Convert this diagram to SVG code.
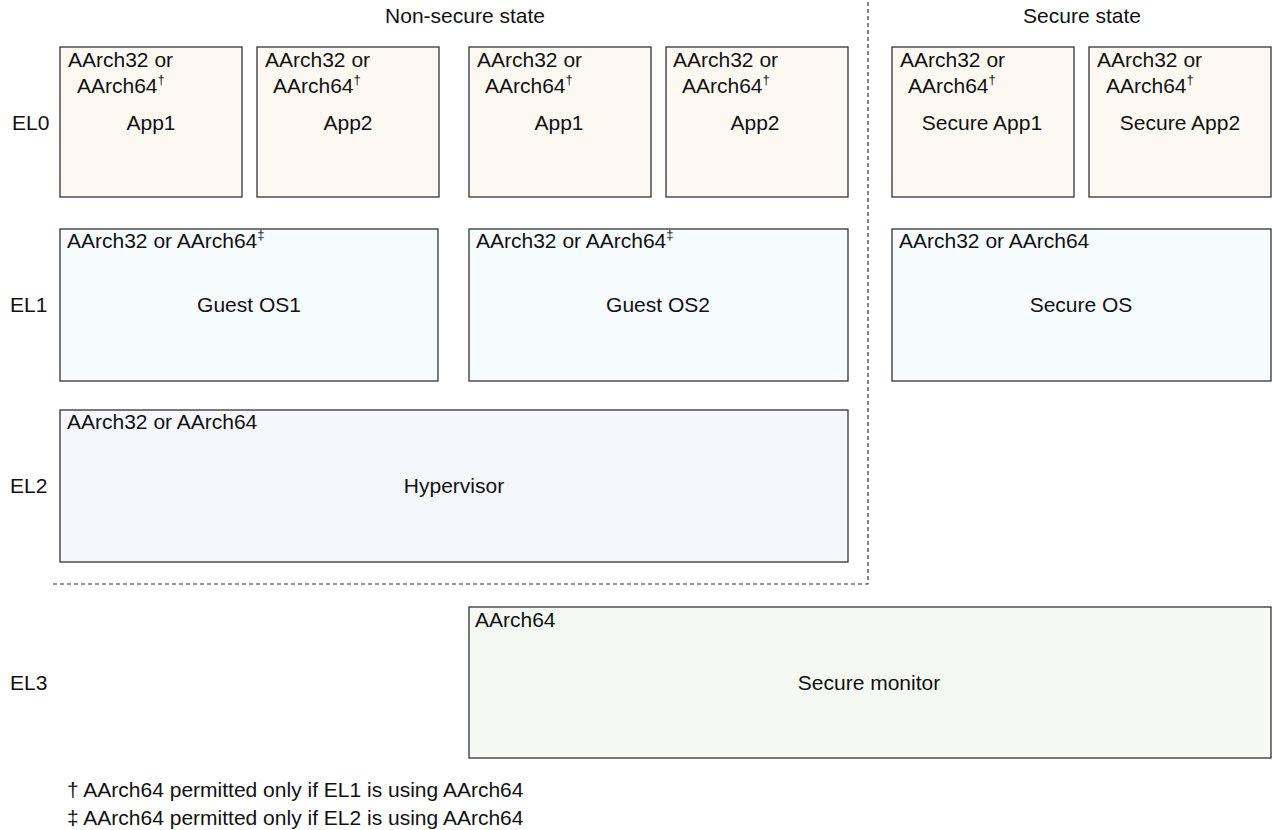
<svg xmlns="http://www.w3.org/2000/svg" width="1274" height="830" viewBox="0 0 1274 830">
<style>
text{font-family:"Liberation Sans",Arial,sans-serif;font-size:21px;fill:#111}
.c{text-anchor:middle}
.box{stroke:#333;stroke-width:1.3}
.el0{fill:#fdf9f2}.el1{fill:#f6fbfe}.el2{fill:#f5f7fd}.el3{fill:#f6f8f4}
.sup{font-size:13px}
.dash{stroke:#333;stroke-width:1.2;stroke-dasharray:4 3;fill:none}
</style>
<rect width="1274" height="830" fill="#fff"/>
<text class="c" x="465" y="23">Non-secure state</text>
<text class="c" x="1082" y="23">Secure state</text>
<text x="12" y="130">EL0</text>
<text x="10" y="312">EL1</text>
<text x="10" y="493">EL2</text>
<text x="10" y="690">EL3</text>
<g id="connectors">
<path class="dash" d="M868 2 V584 H52"/>
</g>
<g id="app1-ns"><rect class="box el0" x="60" y="47" width="182" height="150"/><text x="68" y="67">AArch32 or</text><text x="77" y="93">AArch64<tspan class="sup" dy="-9">†</tspan></text><text class="c" x="151" y="130">App1</text></g>
<g id="app2-ns"><rect class="box el0" x="257" y="47" width="182" height="150"/><text x="265" y="67">AArch32 or</text><text x="273" y="93">AArch64<tspan class="sup" dy="-9">†</tspan></text><text class="c" x="348" y="130">App2</text></g>
<g id="app1-ns2"><rect class="box el0" x="469" y="47" width="182" height="150"/><text x="477" y="67">AArch32 or</text><text x="485" y="93">AArch64<tspan class="sup" dy="-9">†</tspan></text><text class="c" x="559" y="130">App1</text></g>
<g id="app2-ns2"><rect class="box el0" x="666" y="47" width="182" height="150"/><text x="673" y="67">AArch32 or</text><text x="682" y="93">AArch64<tspan class="sup" dy="-9">†</tspan></text><text class="c" x="755" y="130">App2</text></g>
<g id="secure-app1"><rect class="box el0" x="892" y="47" width="182" height="150"/><text x="900" y="67">AArch32 or</text><text x="908" y="93">AArch64<tspan class="sup" dy="-9">†</tspan></text><text class="c" x="982" y="130">Secure App1</text></g>
<g id="secure-app2"><rect class="box el0" x="1089" y="47" width="182" height="150"/><text x="1097" y="67">AArch32 or</text><text x="1106" y="93">AArch64<tspan class="sup" dy="-9">†</tspan></text><text class="c" x="1180" y="130">Secure App2</text></g>
<g id="guest-os1"><rect class="box el1" x="60" y="229" width="378" height="152"/><text x="67" y="248">AArch32 or AArch64<tspan class="sup" dy="-9">‡</tspan></text><text class="c" x="249" y="312">Guest OS1</text></g>
<g id="guest-os2"><rect class="box el1" x="469" y="229" width="379" height="152"/><text x="476" y="248">AArch32 or AArch64<tspan class="sup" dy="-9">‡</tspan></text><text class="c" x="658" y="312">Guest OS2</text></g>
<g id="secure-os"><rect class="box el1" x="892" y="229" width="379" height="152"/><text x="899" y="248">AArch32 or AArch64</text><text class="c" x="1081" y="312">Secure OS</text></g>
<g id="hypervisor"><rect class="box el2" x="60" y="410" width="788" height="152"/><text x="67" y="429">AArch32 or AArch64</text><text class="c" x="454" y="493">Hypervisor</text></g>
<g id="secure-monitor"><rect class="box el3" x="469" y="607" width="802" height="151"/><text x="475" y="627">AArch64</text><text class="c" x="869" y="690">Secure monitor</text></g>
<text x="67" y="797">† AArch64 permitted only if EL1 is using AArch64</text>
<text x="67" y="825">‡ AArch64 permitted only if EL2 is using AArch64</text>
</svg>
